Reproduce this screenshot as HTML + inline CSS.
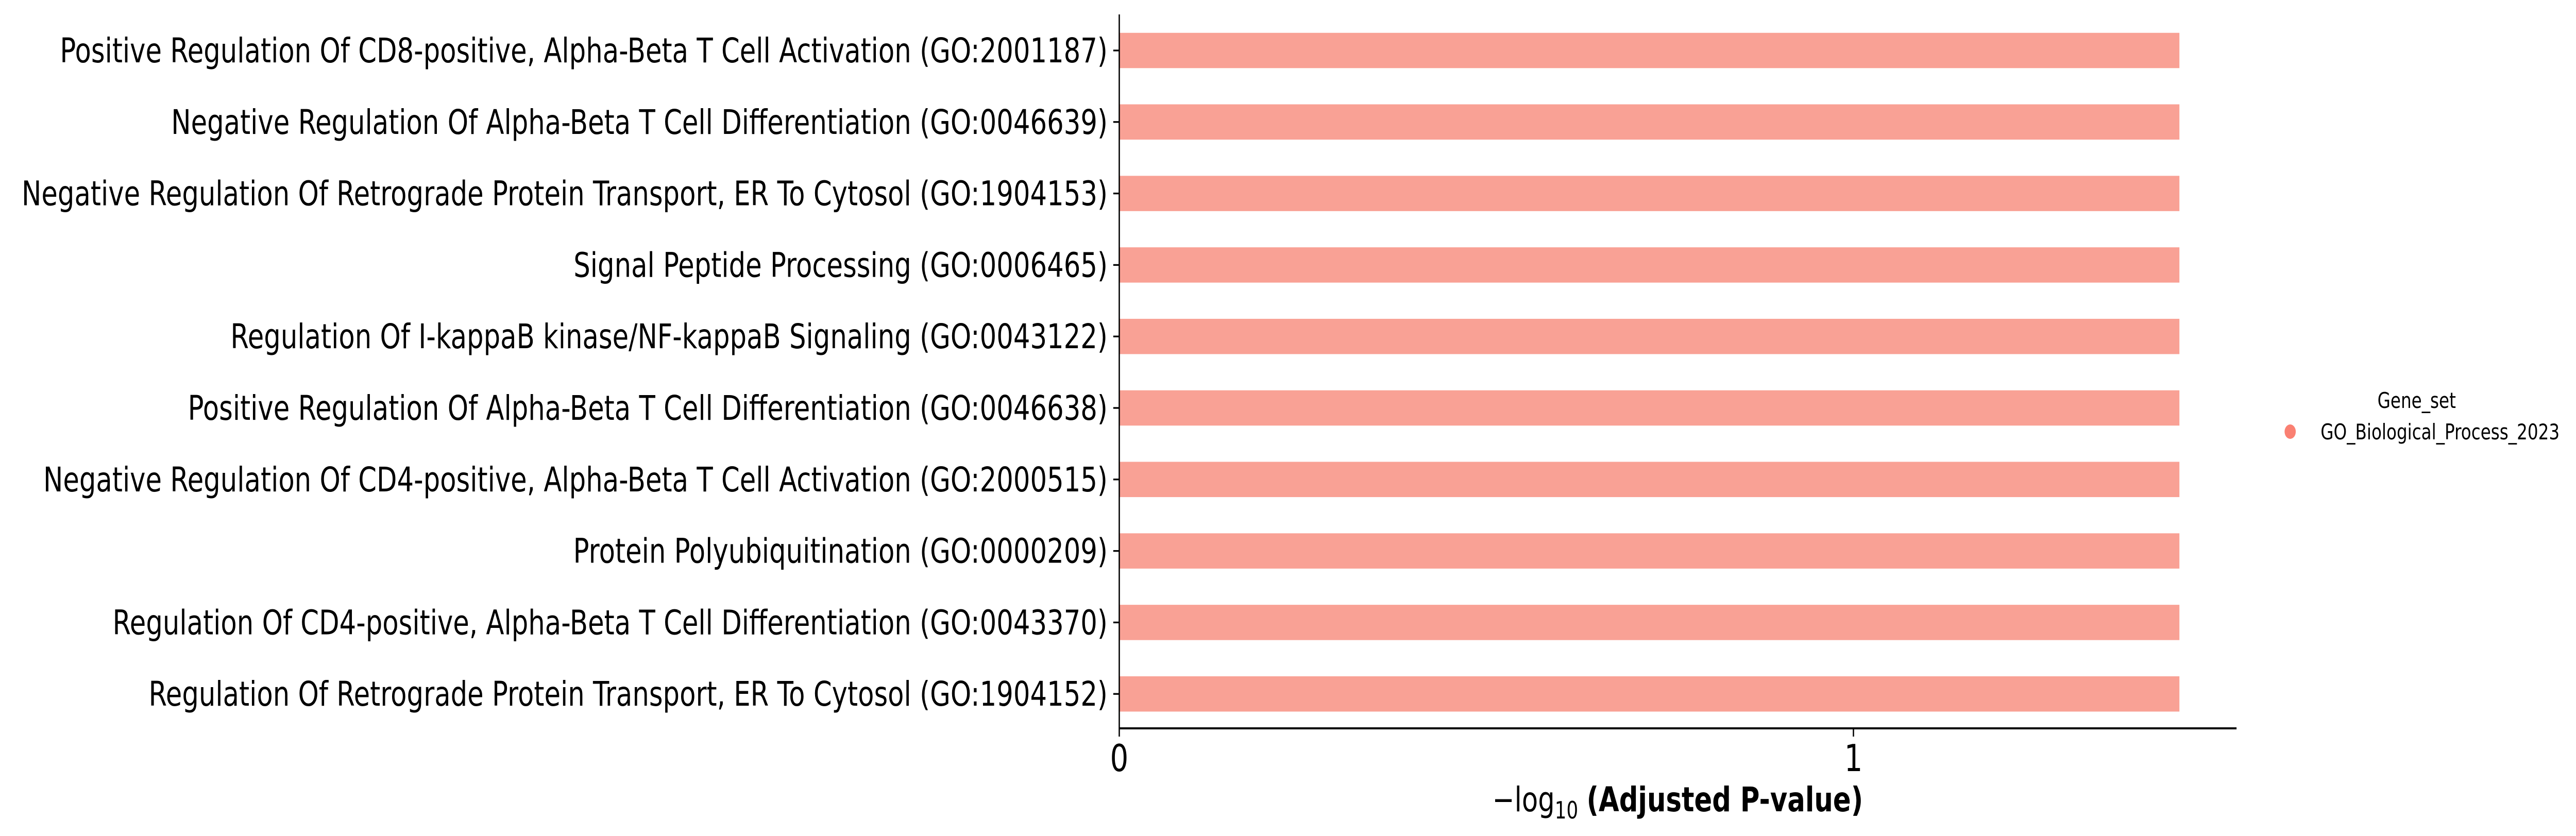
<!DOCTYPE html>
<html><head><meta charset="utf-8"><style>
html,body{margin:0;padding:0;background:#fff;overflow:hidden;width:100%;height:100%;}
svg{display:block;width:100vw;height:100vh;font-family:"DejaVu Sans","Liberation Sans",sans-serif;}
</style></head><body>
<svg id="chart" viewBox="0 0 6435 1623" preserveAspectRatio="none" xmlns="http://www.w3.org/2000/svg">
<g id="bars"></g>
<g id="yticks"></g>
<g id="xticks"></g>
<line x1="2796" y1="28" x2="2796" y2="1414" stroke="#000" stroke-width="3.3"/>
<line x1="2796" y1="1414" x2="5587" y2="1414" stroke="#000" stroke-width="4"/>
<text x="4191" y="1575" text-anchor="middle" font-size="66"><tspan>−log</tspan><tspan font-size="46" dy="14">10</tspan><tspan dy="-14"> </tspan><tspan font-weight="bold">(Adjusted P-value)</tspan></text>
<g>
<text x="6037" y="792" text-anchor="middle" font-size="42">Gene_set</text>
<circle cx="5721" cy="838" r="14" fill="#fa8072"/>
<text x="5797" y="853" font-size="42">GO_Biological_Process_2023</text>
</g>
</svg>
<script>
const categories = [
"Positive Regulation Of CD8-positive, Alpha-Beta T Cell Activation (GO:2001187)",
"Negative Regulation Of Alpha-Beta T Cell Differentiation (GO:0046639)",
"Negative Regulation Of Retrograde Protein Transport, ER To Cytosol (GO:1904153)",
"Signal Peptide Processing (GO:0006465)",
"Regulation Of I-kappaB kinase/NF-kappaB Signaling (GO:0043122)",
"Positive Regulation Of Alpha-Beta T Cell Differentiation (GO:0046638)",
"Negative Regulation Of CD4-positive, Alpha-Beta T Cell Activation (GO:2000515)",
"Protein Polyubiquitination (GO:0000209)",
"Regulation Of CD4-positive, Alpha-Beta T Cell Differentiation (GO:0043370)",
"Regulation Of Retrograde Protein Transport, ER To Cytosol (GO:1904152)"
];
const values = [1.444,1.444,1.444,1.444,1.444,1.444,1.444,1.444,1.444,1.444];
const xTicks = [0,1];
const xTickLabels = ["0","1"];

const NS="http://www.w3.org/2000/svg";
const x0=2796, unit=1834;
function xScale(v){return x0+v*unit;}
const yTop=98, step=138.8, barH=68.5;
function yScale(i){return yTop+i*step;}
const gB=document.getElementById('bars'), gY=document.getElementById('yticks'), gX=document.getElementById('xticks');
categories.forEach((c,i)=>{
  const cy=yScale(i);
  const r=document.createElementNS(NS,'rect');
  r.setAttribute('x',xScale(0)); r.setAttribute('y',cy-barH/2);
  r.setAttribute('width',xScale(values[i])-xScale(0)); r.setAttribute('height',barH);
  r.setAttribute('fill','#f9a195');
  
  
  gB.appendChild(r);
  const t=document.createElementNS(NS,'line');
  t.setAttribute('x1',x0-15); t.setAttribute('x2',x0); t.setAttribute('y1',cy); t.setAttribute('y2',cy);
  t.setAttribute('stroke','#000'); t.setAttribute('stroke-width','3.3');
  
  
  gY.appendChild(t);
  const tx=document.createElementNS(NS,'text');
  tx.setAttribute('x',x0-29); tx.setAttribute('y',cy+23);
  tx.setAttribute('text-anchor','end'); tx.setAttribute('font-size','66');
  tx.textContent=c;
  
  
  gY.appendChild(tx);
});
xTicks.forEach((v,i)=>{
  const x=xScale(v);
  const t=document.createElementNS(NS,'line');
  t.setAttribute('x1',x); t.setAttribute('x2',x); t.setAttribute('y1',1414); t.setAttribute('y2',1430);
  t.setAttribute('stroke','#000'); t.setAttribute('stroke-width','3.3');
  
  
  gX.appendChild(t);
  const tx=document.createElementNS(NS,'text');
  tx.setAttribute('x',x); tx.setAttribute('y',1497);
  tx.setAttribute('text-anchor','middle'); tx.setAttribute('font-size','72');
  tx.textContent=xTickLabels[i];
  
  
  gX.appendChild(tx);
});
</script>
</body></html>
